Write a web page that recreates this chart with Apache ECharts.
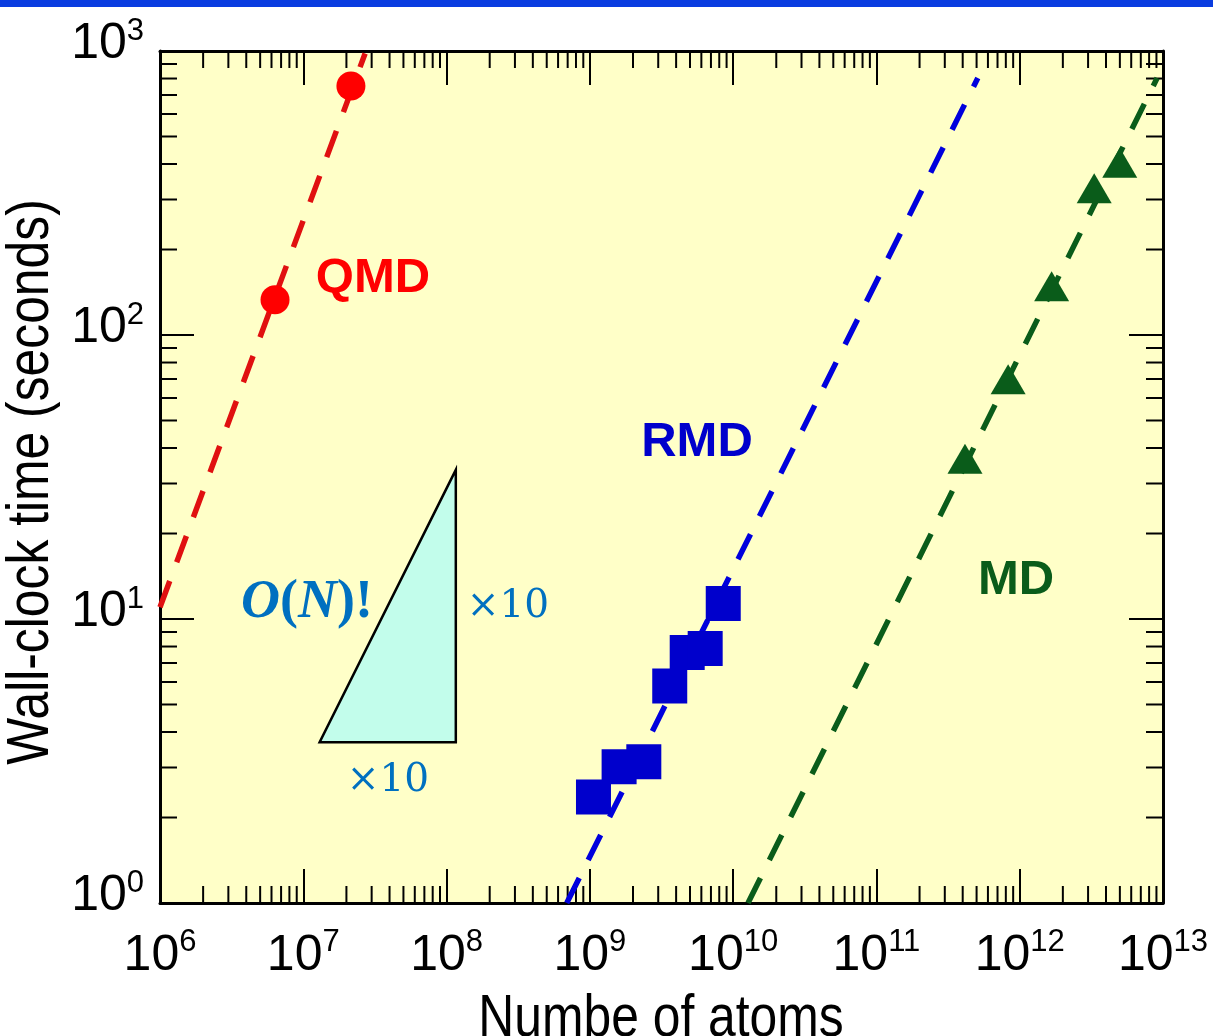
<!DOCTYPE html>
<html><head><meta charset="utf-8">
<script src="https://cdn.jsdelivr.net/npm/echarts@6/dist/echarts.min.js"></script>
<style>html,body{margin:0;padding:0;background:#fff}#c{width:1213px;height:1036px}</style>
</head><body><div id="c"></div>
<script>
// ---- data ----
const qmdAtoms = [6.35e6, 2.15e7];
const qmdTime = [133, 753];
const qmdFitAtoms = [1e6, 2.7e7];
const qmdFitTime = [11, 980];

const rmdAtoms = [1.06e9, 1.60e9, 2.38e9, 3.61e9, 4.78e9, 6.38e9, 8.53e9];
const rmdTime = [2.36, 3.02, 3.14, 5.81, 7.62, 7.87, 11.34];
const rmdFitAtoms = [6.9e8, 5.1e11];
const rmdFitTime = [1, 803];

const mdAtoms = [4.15e11, 8.30e11, 1.67e12, 3.31e12, 4.99e12];
const mdTime = [36.7, 69.9, 148.5, 328.6, 404];
const mdFitAtoms = [1.27e10, 9.1e12];
const mdFitTime = [1, 803];

const slopeAtoms = [1.3e7, 1.16e8, 1.16e8];
const slopeTime = [3.68, 3.68, 33.5];

const xTickExponents = [6, 7, 8, 9, 10, 11, 12, 13];
const yTickExponents = [0, 1, 2, 3];
const minorMultipliers = [2, 3, 4, 5, 6, 7, 8, 9];

const xTitle = 'Numbe of atoms';
const yTitle = 'Wall-clock time (seconds)';

// ---- helpers ----
const zip = (a, b) => a.map((v, i) => [v, b[i]]);
const xMin = Math.pow(10, xTickExponents[0]), xMax = Math.pow(10, xTickExponents[xTickExponents.length - 1]);
const yMin = Math.pow(10, yTickExponents[0]), yMax = Math.pow(10, yTickExponents[yTickExponents.length - 1]);
const xMinor = [], yMinor = [];
xTickExponents.slice(0, -1).forEach(e => minorMultipliers.forEach(m => xMinor.push([m * Math.pow(10, e), yMin])));
yTickExponents.slice(0, -1).forEach(e => minorMultipliers.forEach(m => yMinor.push([xMin, m * Math.pow(10, e)])));

const SANS = "'Liberation Sans', Arial, sans-serif";
const supFmt = v => '{b|10}{s|' + Math.round(Math.log10(v)) + '}';
const richLab = {
  b: { fontSize: 50, lineHeight: 58, fontFamily: SANS, color: '#000' },
  s: { fontSize: 31, lineHeight: 30, fontFamily: SANS, color: '#000', verticalAlign: 'top' }
};
const MINOR = 17, MAJOR = 34;
const tickStyle = { color: '#000', width: 2 };
const lineAx = { show: true, lineStyle: { color: '#000', width: 3 } };

function baseX(pos, showLabel) {
  return {
    type: 'log', logBase: 10, min: xMin, max: xMax, interval: 1, position: pos,
    axisLine: lineAx, splitLine: { show: false },
    axisTick: { show: true, inside: true, length: MAJOR, lineStyle: tickStyle },
    axisLabel: showLabel ? { show: true, formatter: supFmt, rich: richLab, margin: 24, showMinLabel: true, showMaxLabel: true } : { show: false }
  };
}
function baseY(pos, showLabel) {
  return {
    type: 'log', logBase: 10, min: yMin, max: yMax, interval: 1, position: pos,
    axisLine: lineAx, splitLine: { show: false },
    axisTick: { show: true, inside: true, length: MAJOR, lineStyle: tickStyle },
    axisLabel: showLabel ? { show: true, formatter: supFmt, rich: richLab, margin: 16, padding: [0, 0, 13, 0], showMinLabel: true, showMaxLabel: true } : { show: false }
  };
}

const dashLine = (data, color) => ({
  type: 'line', data, symbol: 'none', silent: true, z: 3,
  lineStyle: { color, width: 5.5, type: [28, 20], cap: 'butt', opacity: 1 }
});

const chart = echarts.init(document.getElementById('c'), null, { renderer: 'canvas' });
chart.setOption({
  animation: false,
  backgroundColor: '#ffffff',
  grid: { left: 160, right: 50, top: 51, bottom: 133, show: true, backgroundColor: '#FFFFC8', borderWidth: 0, containLabel: false, outerBoundsMode: 'none' },
  xAxis: [baseX('bottom', true), baseX('top', false)],
  yAxis: [baseY('left', true), baseY('right', false)],
  graphic: [
    { type: 'rect', shape: { x: 0, y: 0, width: 1213, height: 7 }, style: { fill: '#0A3CE0' }, silent: true },
    { type: 'text', x: 661, y: 1019, scaleX: 0.83, z: 10, style: { text: xTitle, font: "60px 'Liberation Sans', Arial", fill: '#000', align: 'center', verticalAlign: 'middle' } },
    { type: 'text', x: 31, y: 482, scaleX: 0.83, rotation: Math.PI / 2, z: 10, style: { text: yTitle, font: "60px 'Liberation Sans', Arial", fill: '#000', align: 'center', verticalAlign: 'middle' } },
    { type: 'text', x: 373, y: 278, style: { text: 'QMD', font: "bold 49px 'Liberation Sans', Arial", fill: '#FF0000', align: 'center', verticalAlign: 'middle' }, z: 10 },
    { type: 'text', x: 697, y: 442, style: { text: 'RMD', font: "bold 49px 'Liberation Sans', Arial", fill: '#0000CC', align: 'center', verticalAlign: 'middle' }, z: 10 },
    { type: 'text', x: 1016, y: 580, style: { text: 'MD', font: "bold 49px 'Liberation Sans', Arial", fill: '#0A5C1A', align: 'center', verticalAlign: 'middle' }, z: 10 },
    { type: 'text', x: 241, y: 603, z: 10, style: {
        text: '{i|O}{r|(}{i|N}{r|)!}', align: 'left', verticalAlign: 'middle',
        rich: {
          i: { fontFamily: "'Liberation Serif', 'Times New Roman', serif", fontStyle: 'italic', fontWeight: 'bold', fontSize: 54, fill: '#0070C0' },
          r: { fontFamily: "'Liberation Serif', 'Times New Roman', serif", fontWeight: 'bold', fontSize: 54, fill: '#0070C0' }
        } } },
    { type: 'text', x: 508, y: 607, z: 10, style: { text: '×10', font: "39px 'DejaVu Serif', serif", fill: '#0070C0', align: 'center', verticalAlign: 'middle' } },
    { type: 'text', x: 388, y: 781, z: 10, style: { text: '×10', font: "39px 'DejaVu Serif', serif", fill: '#0070C0', align: 'center', verticalAlign: 'middle' } }
  ],
  series: [
    {
      type: 'custom', silent: true, z: 2, data: [[slopeAtoms[0], slopeTime[0]]],
      renderItem: (params, api) => {
        const pts = slopeAtoms.map((a, i) => api.coord([a, slopeTime[i]]));
        return { type: 'polygon', shape: { points: pts }, style: { fill: '#C2FDEB', stroke: '#000', lineWidth: 2.5 } };
      }
    },
    {
      type: 'custom', silent: true, z: 1, data: xMinor,
      renderItem: (params, api) => {
        const cs = params.coordSys; const x = api.coord([api.value(0), yMin])[0];
        const bot = cs.y + cs.height, top = cs.y;
        return { type: 'group', children: [
          { type: 'line', shape: { x1: x, y1: bot, x2: x, y2: bot - MINOR }, style: { stroke: '#000', lineWidth: 2 } },
          { type: 'line', shape: { x1: x, y1: top, x2: x, y2: top + MINOR }, style: { stroke: '#000', lineWidth: 2 } }
        ] };
      }
    },
    {
      type: 'custom', silent: true, z: 1, data: yMinor,
      renderItem: (params, api) => {
        const cs = params.coordSys; const y = api.coord([xMin, api.value(1)])[1];
        const l = cs.x, r = cs.x + cs.width;
        return { type: 'group', children: [
          { type: 'line', shape: { x1: l, y1: y, x2: l + MINOR, y2: y }, style: { stroke: '#000', lineWidth: 2 } },
          { type: 'line', shape: { x1: r, y1: y, x2: r - MINOR, y2: y }, style: { stroke: '#000', lineWidth: 2 } }
        ] };
      }
    },
    dashLine(zip(qmdFitAtoms, qmdFitTime), '#E01010'),
    dashLine(zip(rmdFitAtoms, rmdFitTime), '#0000DD'),
    dashLine(zip(mdFitAtoms, mdFitTime), '#0A5C1A'),
    { type: 'scatter', name: 'QMD', data: zip(qmdAtoms, qmdTime), symbol: 'circle', symbolSize: 29, z: 5, itemStyle: { color: '#FF0000', opacity: 1 } },
    { type: 'scatter', name: 'RMD', data: zip(rmdAtoms, rmdTime), symbol: 'rect', symbolSize: 35, z: 5, itemStyle: { color: '#0000CC', opacity: 1 } },
    { type: 'scatter', name: 'MD', data: zip(mdAtoms, mdTime), symbol: 'triangle', symbolSize: [35, 30], z: 5, itemStyle: { color: '#0A5C1A', opacity: 1 } }
  ]
});
</script>
</body></html>
